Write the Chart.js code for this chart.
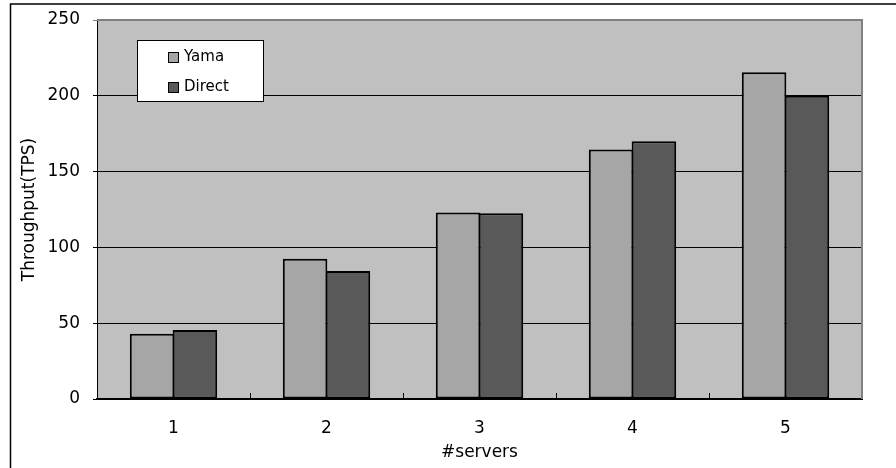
<!DOCTYPE html>
<html>
<head>
<meta charset="utf-8">
<script src="https://cdn.jsdelivr.net/npm/chart.js@4/dist/chart.umd.min.js"></script>
<style>
    html, body { margin: 0; padding: 0; background: #fff; }
    canvas { display: block; }
</style>
</head>
<body>
<canvas id="grafica" width="896" height="468"></canvas>
<script>
// Datos de la gráfica
const servidores = ['1', '2', '3', '4', '5'];
const yama = [43, 92.5, 123, 164.5, 215.5];
const direct = [45.5, 84.5, 122.5, 170, 200];
const ticksY = [0, 50, 100, 150, 200, 250];

Chart.defaults.font.family = '"DejaVu Sans", sans-serif';
Chart.defaults.color = '#000';

// Fondo gris del área de trazado y marco exterior
const fondo = {
    id: 'fondo',
    beforeDraw(chart) {
        const { ctx, chartArea: a } = chart;
        ctx.save();
        ctx.fillStyle = '#fff';
        ctx.fillRect(0, 0, chart.width, chart.height);
        ctx.strokeStyle = '#000';
        ctx.lineWidth = 1.5;
        ctx.beginPath();
        ctx.moveTo(10.5, chart.height);
        ctx.lineTo(10.5, 4);
        ctx.lineTo(chart.width, 4);
        ctx.stroke();
        ctx.fillStyle = '#c0c0c0';
        ctx.fillRect(a.left, a.top, a.right - a.left, a.bottom - a.top);
        ctx.restore();
    },
    afterDatasetsDraw(chart) {
        const { ctx, chartArea: a } = chart;
        const x = chart.scales.x;
        ctx.save();
        // Bordes superior y derecho en gris
        ctx.strokeStyle = '#808080';
        ctx.lineWidth = 2;
        ctx.beginPath();
        ctx.moveTo(a.left, a.top);
        ctx.lineTo(a.right, a.top);
        ctx.lineTo(a.right, a.bottom);
        ctx.stroke();
        // Marcas hacia dentro entre categorías
        ctx.strokeStyle = '#000';
        ctx.lineWidth = 1;
        ctx.beginPath();
        for (let i = 1; i < servidores.length; i++) {
            const px = Math.round((x.getPixelForValue(i - 1) + x.getPixelForValue(i)) / 2) + 0.5;
            ctx.moveTo(px, a.bottom);
            ctx.lineTo(px, a.bottom - 6);
        }
        ctx.stroke();
        ctx.restore();
    }
};

// Leyenda dentro del área de trazado
const leyenda = {
    id: 'leyenda',
    afterDraw(chart) {
        const { ctx, chartArea: a } = chart;
        const x = a.left + 40, y = a.top + 20, w = 126, h = 61;
        ctx.save();
        ctx.fillStyle = '#fff';
        ctx.fillRect(x, y, w, h);
        ctx.strokeStyle = '#000';
        ctx.lineWidth = 1;
        ctx.strokeRect(x + 0.5, y + 0.5, w, h);
        ctx.font = '15px "DejaVu Sans"';
        ctx.textBaseline = 'middle';
        ctx.textAlign = 'left';
        chart.data.datasets.forEach((ds, i) => {
            const cy = y + 17 + i * 30;
            ctx.fillStyle = ds.backgroundColor;
            ctx.fillRect(x + 31, cy - 5, 10, 10);
            ctx.strokeRect(x + 31.5, cy - 4.5, 10, 10);
            ctx.fillStyle = '#000';
            ctx.fillText(ds.label, x + 47, cy);
        });
        ctx.restore();
    }
};

const ctx = document.getElementById('grafica').getContext('2d');
new Chart(ctx, {
    type: 'bar',
    data: {
        labels: servidores,
        datasets: [
            {
                label: 'Yama',
                data: yama,
                backgroundColor: '#a6a6a6',
                borderColor: '#000',
                borderWidth: 2,
                borderSkipped: false
            },
            {
                label: 'Direct',
                data: direct,
                backgroundColor: '#595959',
                borderColor: '#000',
                borderWidth: 2,
                borderSkipped: false
            }
        ]
    },
    options: {
        responsive: false,
        animation: false,
        categoryPercentage: 0.56,
        barPercentage: 1.04,
        layout: { padding: { left: 0, top: 20, right: 34, bottom: 0 } },
        plugins: {
            legend: { display: false },
            tooltip: { enabled: false }
        },
        scales: {
            x: {
                afterFit: s => { s.height = 69; },
                grid: { display: false },
                border: { color: '#000', width: 2 },
                ticks: { padding: 11, font: { size: 17 } },
                title: {
                    display: true,
                    text: '#servers',
                    font: { size: 17 },
                    padding: { top: 0, bottom: 5 }
                }
            },
            y: {
                min: 0,
                max: 250,
                afterFit: s => { s.width = 97; },
                afterBuildTicks: s => { s.ticks = ticksY.map(v => ({ value: v })); },
                grid: {
                    color: c => (c.tick && c.tick.value === 250 ? '#808080' : '#000'),
                    tickLength: 4
                },
                border: { color: '#000', width: 1 },
                ticks: { padding: 13, font: { size: 17, lineHeight: 0.8 } },
                title: {
                    display: true,
                    text: 'Throughput(TPS)',
                    font: { size: 17 },
                    padding: { top: 19, bottom: 0 }
                }
            }
        }
    },
    plugins: [fondo, leyenda]
});
</script>
</body>
</html>
